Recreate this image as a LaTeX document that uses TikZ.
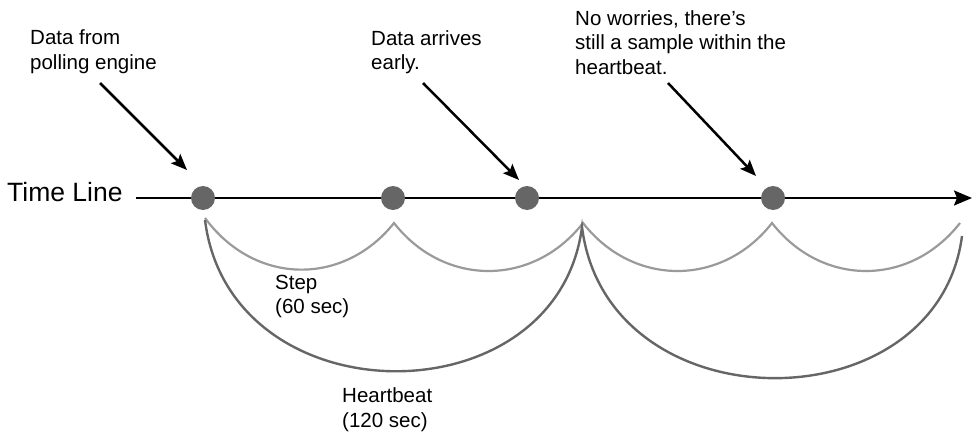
\documentclass[tikz,border=0pt]{standalone}
\usepackage{fontspec}
\setmainfont{Liberation Sans}
\usetikzlibrary{arrows.meta}
\definecolor{dotgray}{HTML}{666666}
\definecolor{stepgray}{HTML}{9A9A9A}
\definecolor{beatgray}{HTML}{666666}
\begin{document}
\begin{tikzpicture}[x=1pt,y=-1pt,
  lbl/.style={font=\fontsize{20.5}{24.5}\selectfont, align=left, anchor=base west, inner sep=0pt},
  dot/.style={circle, fill=dotgray, minimum size=24pt, inner sep=0pt},
  callout/.style={-{Stealth[length=16pt,width=13pt,inset=3pt]}, line width=2.5pt},
  steparc/.style={stepgray, line width=2.2pt},
  beatarc/.style={beatgray, line width=2.4pt}]
\useasboundingbox (0,0) rectangle (977,434);

% time line
\node[font=\fontsize{26.5}{30}\selectfont, anchor=base west, inner sep=0pt] (tl) at (7,201) {Time Line};
\coordinate (tlstart) at (136,198);
\coordinate (tlend) at (972,198);
\draw[line width=2.2pt, -{Stealth[length=18pt,width=15pt,inset=3pt]}] (tlstart) -- (tlend);

% step arcs
\coordinate (s0) at (205,218);
\coordinate (s1) at (394,223);
\coordinate (s2) at (583,223);
\coordinate (s3) at (772,223);
\coordinate (s4) at (960,223);
\draw[steparc] (s0) .. controls +(50,68) and +(-50,63) .. (s1)
  .. controls +(50,64) and +(-50,64) .. (s2)
  .. controls +(50,64) and +(-50,64) .. (s3)
  .. controls +(50,64) and +(-50,64) .. (s4);

% heartbeat arcs
\coordinate (h0) at (205,220);
\coordinate (h1) at (582,227);
\coordinate (h2) at (962,236);
\draw[beatarc] (h0) .. controls +(25,200) and +(-25,194) .. (h1)
  .. controls +(25,200) and +(-25,191) .. (h2);

% samples
\node[dot] (d1) at (203,198) {};
\node[dot] (d2) at (393,198) {};
\node[dot] (d3) at (527,198) {};
\node[dot] (d4) at (773,198) {};

% labels (anchored at the baseline of their last line)
\node[lbl] (t1) at (30,69) {Data from\\polling engine};
\node[lbl] (t2) at (371,69.5) {Data arrives\\early.};
\node[lbl] (t3) at (575,74) {No worries, there’s\\still a sample within the\\heartbeat.};
\node[lbl] (t4) at (275,313.5) {Step\\(60 sec)};
\node[lbl] (t5) at (342,427) {Heartbeat\\(120 sec)};

% callouts
\coordinate (a1s) at (100,83);
\coordinate (a1e) at (187,170);
\coordinate (a2s) at (423,83);
\coordinate (a2e) at (519,180);
\coordinate (a3s) at (668,83);
\coordinate (a3e) at (756,176);
\draw[callout] (a1s) -- (a1e);
\draw[callout] (a2s) -- (a2e);
\draw[callout] (a3s) -- (a3e);
\end{tikzpicture}
\end{document}
